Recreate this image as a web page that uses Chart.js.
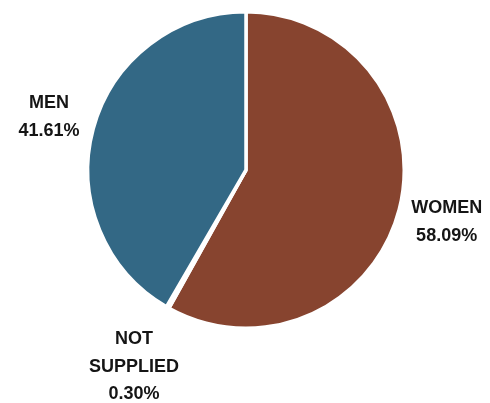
<!DOCTYPE html>
<html>
<head>
<meta charset="utf-8">
<script src="https://cdn.jsdelivr.net/npm/chart.js@4/dist/chart.umd.min.js"></script>
<style>
  html, body { margin: 0; padding: 0; background: #fff; }
  #wrap { width: 490px; height: 403px; }
</style>
</head>
<body>
<div id="wrap"><canvas id="pie" width="490" height="403"></canvas></div>
<script>
const categories = ["WOMEN", "NOT SUPPLIED", "MEN"]
const shares = [58.09, 0.30, 41.61]
const colors = ["#87442f", "#9a9a9a", "#336885"]
// how far out from the centre each label block sits, in radii
const labelDistance = [1.31, 1.43, 1.29]

const sliceLabels = {
  id: "sliceLabels",
  afterDatasetsDraw(chart) {
    const ctx = chart.ctx
    const arcs = chart.getDatasetMeta(0).data
    ctx.save()
    ctx.font = "bold 18px 'Liberation Sans', Arial, sans-serif"
    ctx.fillStyle = "#151515"
    ctx.textAlign = "center"
    ctx.textBaseline = "middle"
    const lineH = 27.5
    arcs.forEach((arc, i) => {
      const mid = (arc.startAngle + arc.endAngle) / 2
      const d = arc.outerRadius * labelDistance[i]
      const cx = arc.x + Math.cos(mid) * d
      const cy = arc.y + Math.sin(mid) * d
      const lines = categories[i].split(" ").concat(shares[i].toFixed(2) + "%")
      const top = cy - (lines.length - 1) * lineH / 2
      lines.forEach((t, j) => ctx.fillText(t, cx, top + j * lineH))
    })
    ctx.restore()
  }
}

new Chart(document.getElementById("pie"), {
  type: "pie",
  data: {
    labels: categories,
    datasets: [{
      data: shares,
      backgroundColor: colors,
      borderColor: "#ffffff",
      borderWidth: 3.5
    }]
  },
  options: {
    responsive: false,
    animation: false,
    layout: { padding: { top: 10, bottom: 73, left: 86, right: 84 } },
    plugins: {
      legend: { display: false },
      tooltip: { enabled: false }
    }
  },
  plugins: [sliceLabels]
})
</script>
</body>
</html>
